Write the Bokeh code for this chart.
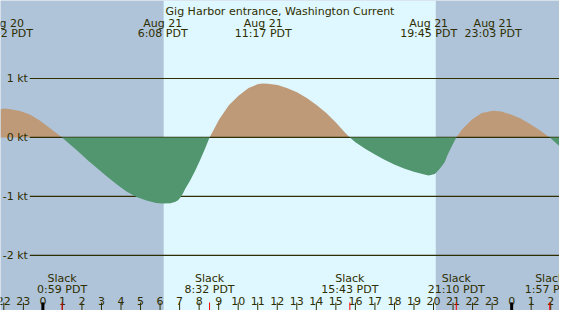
from bokeh.plotting import figure
from bokeh.models import Range1d, BoxAnnotation
from bokeh.core.properties import value
from bokeh.embed import file_html
from bokeh.resources import INLINE

# ---------------- data (hours relative to Aug 21 00:00 PDT) ----------------
title = "Gig Harbor entrance, Washington Current"

hours = [-2.17, -1.97, -1.67, -1.17, -0.67, -0.18, 0.32, 0.67, 0.983,
         1.32, 1.81, 2.31, 2.81, 3.31, 3.81, 4.30, 4.80, 5.30, 5.80, 6.133,
         6.54, 6.79, 6.92, 7.04, 7.17, 7.29, 7.54, 7.79, 8.04, 8.29, 8.533,
         8.78, 9.03, 9.53, 10.03, 10.53, 11.02, 11.283, 11.52, 12.02, 12.52,
         13.01, 13.51, 14.01, 14.51, 15.00, 15.50, 15.717,
         16.00, 16.50, 17.00, 17.49, 17.99, 18.49, 18.99, 19.48, 19.75,
         20.07, 20.32, 20.57, 20.73, 20.98, 21.167,
         21.48, 21.97, 22.47, 23.05, 23.47, 23.96, 24.46, 24.96, 25.46, 25.95,
         26.45]
speed = [0.48, 0.49, 0.48, 0.45, 0.39, 0.29, 0.17, 0.08, 0.0,
         -0.10, -0.24, -0.39, -0.53, -0.67, -0.80, -0.92, -1.01, -1.07, -1.11, -1.12,
         -1.115, -1.09, -1.065, -1.02, -0.95, -0.87, -0.73, -0.57, -0.39, -0.20, 0.0,
         0.15, 0.31, 0.55, 0.71, 0.84, 0.905, 0.915, 0.91, 0.89, 0.835,
         0.765, 0.67, 0.55, 0.415, 0.255, 0.07, 0.0,
         -0.08, -0.19, -0.29, -0.38, -0.46, -0.525, -0.58, -0.625, -0.645,
         -0.62, -0.53, -0.42, -0.29, -0.12, 0.0,
         0.145, 0.305, 0.415, 0.452, 0.44, 0.39, 0.32, 0.225, 0.12, 0.0,
         -0.15]

max_dates = ["Aug 20", "Aug 21", "Aug 21", "Aug 21", "Aug 21"]
max_clock = ["22:02", "6:08", "11:17", "19:45", "23:03"]
max_dayoff = [-1, 0, 0, 0, 0]

slack_clock = ["0:59", "8:32", "15:43", "21:10", "1:57"]
slack_dayoff = [0, 0, 0, 0, 1]

sun_clock = ["6:11", "20:07"]

kt_levels = [1, 0, -1, -2]
kt_labels = ["1 kt", "0 kt", "-1 kt", "-2 kt"]

tick_hours = list(range(-2, 27))
tick_labels = [str(h % 24) for h in tick_hours]


def to_h(clock, day):
    hh, mm = clock.split(":")
    return 24 * day + int(hh) + int(mm) / 60.0


max_h = [to_h(c, d) for c, d in zip(max_clock, max_dayoff)]
max_txt = [c + " PDT" for c in max_clock]
slack_h = [to_h(c, d) for c, d in zip(slack_clock, slack_dayoff)]
slack_txt = [c + " PDT" for c in slack_clock]
sunrise, sunset = [to_h(c, 0) for c in sun_clock]

# ---------------- styles ----------------
NIGHT = "#afc3d9"
DAY = "#dff7ff"
FLOOD = "#bf9a79"
EBB = "#52966f"
INK = "#2e2e00"
FONT = value("DejaVu Sans")
FS = "11px"

X0, X1 = -2.17, 26.45
Y0, Y1 = -2.935, 2.323

p = figure(width=559, height=310, x_range=Range1d(X0, X1), y_range=Range1d(Y0, Y1),
           output_backend="svg", toolbar_location=None, x_axis_type=None, y_axis_type=None,
           min_border=0, background_fill_color=NIGHT, border_fill_color=NIGHT,
           outline_line_color=None)
p.grid.visible = False

p.add_layout(BoxAnnotation(left=sunrise, right=sunset, fill_color=DAY, fill_alpha=1.0,
                           line_color=None, level="underlay"))

# kt grid lines (below fills)
line_start = -0.67
other = [k for k in kt_levels if k != 0]
p.segment(x0=[line_start] * len(other), x1=[X1] * len(other), y0=other, y1=other,
          line_color=INK, line_width=1.2)

flood = [max(v, 0) for v in speed]
ebb = [min(v, 0) for v in speed]
p.varea(x=hours, y1=[0] * len(hours), y2=flood, fill_color=FLOOD)
p.segment(x0=[line_start], x1=[X1], y0=[0], y1=[0], line_color=INK, line_width=1.2)
p.varea(x=hours, y1=[0] * len(hours), y2=ebb, fill_color=EBB)

# kt labels
p.text(x=[line_start - 0.1] * 4, y=kt_levels, text=kt_labels, text_font=FONT,
       text_font_size=FS, text_align="right", text_baseline="middle", text_color=INK)

# title
p.text(x=[(X0 + X1) / 2], y=[2.137], text=[title], text_font=FONT, text_font_size=FS,
       text_align="center", text_baseline="alphabetic", text_color=INK)

# max current labels
p.text(x=max_h, y=[1.927] * len(max_h), text=max_dates, text_font=FONT, text_font_size=FS,
       text_align="center", text_baseline="alphabetic", text_color=INK)
p.text(x=max_h, y=[1.758] * len(max_h), text=max_txt, text_font=FONT, text_font_size=FS,
       text_align="center", text_baseline="alphabetic", text_color=INK)

# slack labels
p.text(x=slack_h, y=[-2.392] * len(slack_h), text=["Slack"] * len(slack_h), text_font=FONT,
       text_font_size=FS, text_align="center", text_baseline="alphabetic", text_color=INK)
p.text(x=slack_h, y=[-2.585] * len(slack_h), text=slack_txt, text_font=FONT,
       text_font_size=FS, text_align="center", text_baseline="alphabetic", text_color=INK)

# hour labels and ticks
p.text(x=tick_hours, y=[-2.769] * len(tick_hours), text=tick_labels, text_font=FONT,
       text_font_size=FS, text_align="center", text_baseline="alphabetic", text_color=INK)
tick_top = -2.80
n = len(tick_hours)
p.segment(x0=tick_hours, x1=tick_hours, y0=[tick_top] * n, y1=[Y0] * n,
          line_color=INK, line_width=1)
mid = [h for h in tick_hours if h % 24 == 0]
p.segment(x0=mid, x1=mid, y0=[tick_top] * len(mid), y1=[Y0] * len(mid),
          line_color="#000000", line_width=3)
p.segment(x0=slack_h, x1=slack_h, y0=[tick_top] * len(slack_h), y1=[Y0] * len(slack_h),
          line_color="#ff0000", line_width=1)

open("out.html", "w").write(file_html(p, INLINE))
